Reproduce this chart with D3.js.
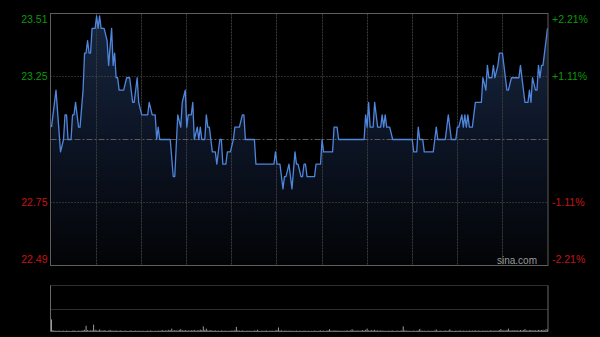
<!DOCTYPE html>
<html>
<head>
<meta charset="utf-8">
<script src="https://cdn.jsdelivr.net/npm/d3@7"></script>
<style>
  html, body { margin: 0; padding: 0; background: #000; }
  svg { display: block; font-family: "Liberation Sans", Arial, sans-serif; }
</style>
</head>
<body>
<svg id="chart" width="600" height="337"></svg>
<script>
// intraday price, minutes since the open (330 trading minutes)
const minutes = [0, 3, 6, 8, 9, 10, 11, 13, 14, 15, 16, 18, 19, 21, 22, 23, 24, 25, 26, 27, 29, 30, 31, 32, 33, 35, 37, 38, 40, 41,
  42, 43, 44, 45, 48, 50, 52, 54, 55, 57, 58, 60, 64, 65, 67, 69, 70, 71, 72, 79, 81, 82, 84, 86, 87, 89, 90, 91, 93, 94,
  95, 97, 98, 99, 100, 102, 103, 104, 105, 107, 109, 110, 112, 113, 114, 116, 117, 119, 121, 122, 125, 127, 128, 129, 135, 136, 148, 149, 150, 152,
  154, 155, 156, 158, 159, 160, 162, 163, 164, 166, 167, 168, 169, 170, 175, 176, 179, 180, 181, 187, 188, 190, 191, 208, 209, 210, 211, 212, 214, 215,
  217, 219, 220, 221, 222, 223, 225, 227, 240, 241, 243, 244, 245, 247, 248, 254, 256, 257, 262, 264, 266, 269, 270, 271, 273, 274, 275, 276, 277, 278,
  280, 282, 286, 287, 289, 290, 291, 293, 294, 295, 297, 298, 300, 302, 303, 304, 306, 311, 312, 314, 315, 317, 318, 319, 320, 322, 323, 324, 325, 326,
  327, 330];
const prices = [23.05, 23.20, 22.95, 23.00, 23.10, 23.10, 23.00, 23.00, 23.10, 23.10, 23.15, 23.05, 23.05, 23.20, 23.35, 23.35, 23.40, 23.35, 23.35, 23.45, 23.45, 23.50, 23.45, 23.50, 23.45, 23.45, 23.40, 23.30, 23.45, 23.30,
  23.35, 23.25, 23.25, 23.20, 23.20, 23.25, 23.25, 23.15, 23.15, 23.25, 23.15, 23.10, 23.10, 23.15, 23.10, 23.10, 23.00, 23.05, 23.00, 23.00, 22.85, 22.85, 23.10, 23.05, 23.15, 23.20, 23.05, 23.10, 23.10, 23.15,
  23.00, 23.05, 23.00, 23.05, 23.00, 23.00, 23.10, 23.05, 23.05, 22.95, 22.95, 22.90, 23.00, 23.00, 22.90, 22.90, 22.95, 22.95, 23.00, 23.05, 23.05, 23.10, 23.10, 23.00, 23.00, 22.90, 22.90, 22.95, 22.90, 22.90,
  22.80, 22.85, 22.85, 22.90, 22.85, 22.80, 22.95, 22.90, 22.90, 22.85, 22.85, 22.90, 22.90, 22.85, 22.85, 22.90, 22.90, 23.00, 22.95, 22.95, 23.05, 23.05, 23.00, 23.00, 23.10, 23.05, 23.15, 23.05, 23.05, 23.15,
  23.05, 23.05, 23.10, 23.05, 23.10, 23.05, 23.05, 23.00, 23.00, 22.95, 22.95, 23.05, 23.00, 23.00, 22.95, 22.95, 23.05, 23.00, 23.00, 23.10, 23.00, 23.00, 23.05, 23.05, 23.10, 23.05, 23.10, 23.05, 23.10, 23.05,
  23.05, 23.15, 23.15, 23.25, 23.20, 23.30, 23.25, 23.25, 23.30, 23.25, 23.30, 23.35, 23.35, 23.25, 23.20, 23.20, 23.25, 23.25, 23.30, 23.20, 23.15, 23.15, 23.20, 23.15, 23.25, 23.20, 23.20, 23.30, 23.25, 23.30,
  23.30, 23.45];

// volume per minute
const volumes = [
  105, 12, 6, 8, 5, 9, 4, 6, 7, 5, 8, 6, 5, 4, 7, 9, 6, 5, 8, 6, 7, 10, 14, 50, 12, 8, 9, 11, 60, 15,
  10, 8, 18, 9, 7, 12, 8, 6, 9, 14, 7, 8, 6, 10, 5, 7, 9, 6, 5, 8, 6, 4, 7, 9, 5, 6, 8, 5, 7, 6,
  5, 7, 4, 6, 8, 5, 9, 6, 4, 7, 5, 8, 6, 9, 12, 7, 10, 8, 14, 11, 25, 9, 12, 10, 8, 15, 20, 11, 9, 13,
  8, 10, 7, 12, 9, 14, 8, 10, 11, 16, 12, 45, 14, 25, 10, 9, 12, 8, 7, 10, 6, 8, 5, 9, 7, 6, 8, 5, 7, 6,
  9, 7, 12, 40, 10, 8, 6, 9, 7, 5, 8, 6, 7, 5, 6, 9, 7, 15, 6, 5, 8, 6, 7, 9, 5, 6, 8, 7, 6, 9,
  12, 35, 8, 10, 6, 7, 9, 5, 8, 6, 7, 5, 6, 8, 5, 7, 6, 5, 8, 6, 5, 7, 4, 6, 5, 8, 6, 5, 7, 9,
  6, 8, 5, 7, 9, 20, 8, 6, 10, 7, 9, 6, 8, 5, 7, 6, 9, 8, 7, 10, 20, 9, 7, 8, 10, 6, 9, 12, 8, 15,
  25, 10, 8, 12, 9, 15, 8, 10, 7, 9, 8, 6, 7, 5, 8, 6, 7, 9, 5, 6, 8, 6, 7, 9, 45, 10, 8, 6, 7, 5,
  6, 8, 5, 7, 9, 22, 8, 6, 7, 5, 6, 8, 5, 7, 6, 9, 18, 7, 6, 8, 5, 7, 9, 6, 8, 18, 7, 6, 5, 8,
  6, 7, 9, 5, 8, 6, 7, 5, 9, 6, 8, 7, 10, 6, 8, 7, 5, 9, 6, 8, 7, 6, 10, 8, 7, 9, 6, 8, 12, 20,
  9, 11, 8, 14, 25, 10, 8, 12, 9, 11, 10, 8, 13, 9, 12, 22, 10, 9, 11, 13, 8, 12, 10, 9, 14, 11, 12, 15, 10, 20,
  18];

const prevClose = 23.00;
const priceTicks = [23.51, 23.255, 23.00, 22.745, 22.49];
const priceLabels = ["23.51", "23.25", "", "22.75", "22.49"];
const pctLabels = ["+2.21%", "+1.11%", "", "-1.11%", "-2.21%"];
const gridMinutes = [30, 60, 90, 120, 150, 180, 210, 240, 270, 300];

const svg = d3.select("#chart");
const plotLeft = 50.5, plotRight = 548, plotTop = 13.5, plotBottom = 265.5;
const volTop = 285.5, volMid = 309.5, volBottom = 331.5;

const x = d3.scaleLinear().domain([0, 330]).range([51.5, 547.5]);
const y = d3.scaleLinear().domain([22.49, 23.51]).range([plotBottom, plotTop]);
const vy = d3.scaleLinear().domain([0, 400]).range([volBottom, volTop]);

const snap = v => Math.floor(v) + 0.5;

// gradient for the area
const grad = svg.append("defs").append("linearGradient")
    .attr("id", "fillGrad")
    .attr("x1", 0).attr("y1", 0).attr("x2", 0).attr("y2", 1);
grad.append("stop").attr("offset", "0%").attr("stop-color", "#17273f");
grad.append("stop").attr("offset", "50%").attr("stop-color", "#0c1424");
grad.append("stop").attr("offset", "100%").attr("stop-color", "#030406");

const pts = minutes.map((m, i) => ({ m, p: prices[i] }));

svg.append("path")
    .datum(pts)
    .attr("fill", "url(#fillGrad)")
    .attr("d", d3.area().x(d => x(d.m)).y0(plotBottom).y1(d => y(d.p)));

// vertical grid
svg.append("g")
    .selectAll("line")
    .data(gridMinutes)
    .join("line")
    .attr("x1", d => snap(x(d))).attr("x2", d => snap(x(d)))
    .attr("y1", plotTop).attr("y2", plotBottom)
    .attr("stroke", "#3c3c3c")
    .attr("stroke-dasharray", "2,1");

// horizontal grid
svg.append("g")
    .selectAll("line")
    .data([priceTicks[1], priceTicks[3]])
    .join("line")
    .attr("x1", plotLeft).attr("x2", plotRight)
    .attr("y1", d => snap(y(d))).attr("y2", d => snap(y(d)))
    .attr("stroke", "#555")
    .attr("stroke-dasharray", "1,2");

svg.append("line")
    .attr("x1", plotLeft).attr("x2", plotRight)
    .attr("y1", snap(y(prevClose))).attr("y2", snap(y(prevClose)))
    .attr("stroke", "#5a5a5a")
    .attr("stroke-dasharray", "6,2,2,2");

// price line
svg.append("path")
    .datum(pts)
    .attr("fill", "none")
    .attr("stroke", "#4f86dc")
    .attr("stroke-width", 1.3)
    .attr("stroke-linejoin", "round")
    .attr("d", d3.line().x(d => x(d.m)).y(d => y(d.p)));

// frame
svg.append("rect")
    .attr("x", plotLeft).attr("y", plotTop)
    .attr("width", plotRight - plotLeft).attr("height", plotBottom - plotTop)
    .attr("fill", "none")
    .attr("stroke", "#5e5e5e");

// axes labels
const colorFor = i => (i < 2 ? "#0a9a0a" : "#c41414");
const offsetFor = i => (i === 0 ? 6 : i === 4 ? -6 : 0);

const leftAxis = svg.append("g")
    .attr("transform", `translate(${plotLeft - 3},0)`)
    .call(d3.axisLeft(y).tickValues(priceTicks).tickSize(0).tickPadding(0)
        .tickFormat((d, i) => priceLabels[i]));
leftAxis.select(".domain").remove();
leftAxis.selectAll("text")
    .attr("font-size", 10.5)
    .attr("font-family", "Liberation Sans, Arial, sans-serif")
    .attr("fill", (d, i) => colorFor(i))
    .attr("y", (d, i) => offsetFor(i));

const rightAxis = svg.append("g")
    .attr("transform", `translate(${plotRight + 4},0)`)
    .call(d3.axisRight(y).tickValues(priceTicks).tickSize(0).tickPadding(0)
        .tickFormat((d, i) => pctLabels[i]));
rightAxis.select(".domain").remove();
rightAxis.selectAll("text")
    .attr("font-size", 10.5)
    .attr("font-family", "Liberation Sans, Arial, sans-serif")
    .attr("fill", (d, i) => colorFor(i))
    .attr("y", (d, i) => offsetFor(i));

// watermark
svg.append("text")
    .attr("x", 537).attr("y", 264)
    .attr("text-anchor", "end")
    .attr("font-size", 10)
    .attr("fill", "#9a9a9a")
    .text("sina.com");

// volume panel
svg.append("g")
    .selectAll("line")
    .data([volTop, volMid])
    .join("line")
    .attr("x1", plotLeft).attr("x2", plotRight)
    .attr("y1", d => d).attr("y2", d => d)
    .attr("stroke", "#5a5a5a")
    .attr("stroke-dasharray", "1,1");

svg.append("g")
    .selectAll("rect")
    .data(volumes)
    .join("rect")
    .attr("x", (d, i) => x(i) - 0.5)
    .attr("width", 1)
    .attr("y", d => vy(d))
    .attr("height", d => volBottom - vy(d))
    .attr("fill", "#9a9a9a");

svg.append("path")
    .attr("fill", "none")
    .attr("stroke", "#6a6a6a")
    .attr("d", `M${plotLeft},${volTop}V${volBottom}H${plotRight}V${volTop}`);
</script>
</body>
</html>
